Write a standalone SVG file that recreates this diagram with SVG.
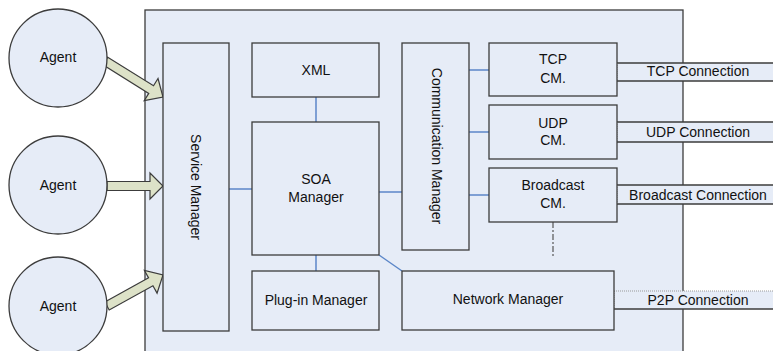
<svg xmlns="http://www.w3.org/2000/svg" width="773" height="351" viewBox="0 0 773 351">
<style>
.box{fill:#e6ecf7;stroke:#3c3c3c;stroke-width:1.3}
.t{font-family:"Liberation Sans",Arial,sans-serif;font-size:14px;fill:#111;text-anchor:middle}
.c{stroke:#5b86c8;stroke-width:1.5;fill:none}
.band{fill:#e6ecf7;stroke:none}
.bl{stroke:#3c3c3c;stroke-width:1.3;fill:none}
.bd{stroke:#9a9a9a;stroke-width:1;stroke-dasharray:1 1;fill:none}
.arr{fill:#dde2c8;stroke:#3c3c3c;stroke-width:1.2}
</style>
<rect width="773" height="351" fill="#fff"/>
<g id="system"><rect class="box" x="145" y="10" width="538" height="350"/></g>
<g id="bands">
<rect class="band" x="617" y="63" width="160" height="18"/>
<path class="bl" d="M617 63H773M617 81H773"/><path class="bd" d="M617 63V81"/>
<rect class="band" x="617" y="122" width="160" height="20"/>
<path class="bl" d="M617 122H773M617 142H773"/><path class="bd" d="M617 122V142"/>
<rect class="band" x="617" y="185" width="160" height="19"/>
<path class="bl" d="M617 185H773M617 204H773"/><path class="bd" d="M617 185V204"/>
<rect class="band" x="614" y="291" width="163" height="18"/>
<path class="bd" d="M614 291H773"/><path class="bl" d="M614 309H773"/><path class="bd" d="M614 291V309"/>
</g>
<g id="connectors">
<path class="c" d="M229 189H252"/>
<path class="c" d="M316 97V122"/>
<path class="c" d="M379 192H402"/>
<path class="c" d="M316 255V271"/>
<path class="c" d="M379 255L402 271"/>
<path class="c" d="M469 70H489"/>
<path class="c" d="M469 132H489"/>
<path class="c" d="M469 195H489"/>
<path d="M553 222V258" stroke="#555" stroke-width="1.2" stroke-dasharray="6 2 2 2" fill="none"/>
<path class="arr" transform="translate(163,97) rotate(32)" d="M-68 -4.5H-14V-13L0 0L-14 13V4.5H-68Z"/>
<path class="arr" transform="translate(163,186)" d="M-56 -4.5H-13V-13L0 0L-13 13V4.5H-56Z"/>
<path class="arr" transform="translate(163,275) rotate(-29)" d="M-64 -4.5H-14V-13L0 0L-14 13V4.5H-64Z"/>
</g>
<g id="agent1"><circle class="box" cx="58" cy="58" r="49"/><text class="t" x="58" y="62">Agent</text></g>
<g id="agent2"><circle class="box" cx="58" cy="185" r="49"/><text class="t" x="58" y="190">Agent</text></g>
<g id="agent3"><circle class="box" cx="58" cy="306" r="49"/><text class="t" x="58" y="311">Agent</text></g>
<g id="service-manager"><rect class="box" x="163" y="43" width="66" height="288"/><text class="t" transform="translate(196,187) rotate(90)" y="5">Service Manager</text></g>
<g id="xml"><rect class="box" x="252" y="43" width="127" height="54"/><text class="t" x="316" y="75">XML</text></g>
<g id="soa-manager"><rect class="box" x="252" y="122" width="127" height="133"/><text class="t" x="316" y="184">SOA</text><text class="t" x="316" y="202">Manager</text></g>
<g id="plugin-manager"><rect class="box" x="252" y="271" width="127" height="59"/><text class="t" x="316" y="305">Plug-in Manager</text></g>
<g id="communication-manager"><rect class="box" x="402" y="43" width="67" height="207"/><text class="t" transform="translate(437,146) rotate(90)" y="5">Communication Manager</text></g>
<g id="tcp-cm"><rect class="box" x="489" y="43" width="128" height="53"/><text class="t" x="553" y="64">TCP</text><text class="t" x="553" y="83">CM.</text></g>
<g id="udp-cm"><rect class="box" x="489" y="105" width="128" height="54"/><text class="t" x="553" y="128">UDP</text><text class="t" x="553" y="145">CM.</text></g>
<g id="broadcast-cm"><rect class="box" x="489" y="168" width="128" height="54"/><text class="t" x="553" y="190">Broadcast</text><text class="t" x="553" y="208">CM.</text></g>
<g id="network-manager"><rect class="box" x="402" y="271" width="212" height="59"/><text class="t" x="508" y="304">Network Manager</text></g>
<g id="labels">
<text class="t" x="698" y="76">TCP Connection</text>
<text class="t" x="698" y="137">UDP Connection</text>
<text class="t" x="698" y="200">Broadcast Connection</text>
<text class="t" x="698" y="305">P2P Connection</text>
</g>
</svg>
